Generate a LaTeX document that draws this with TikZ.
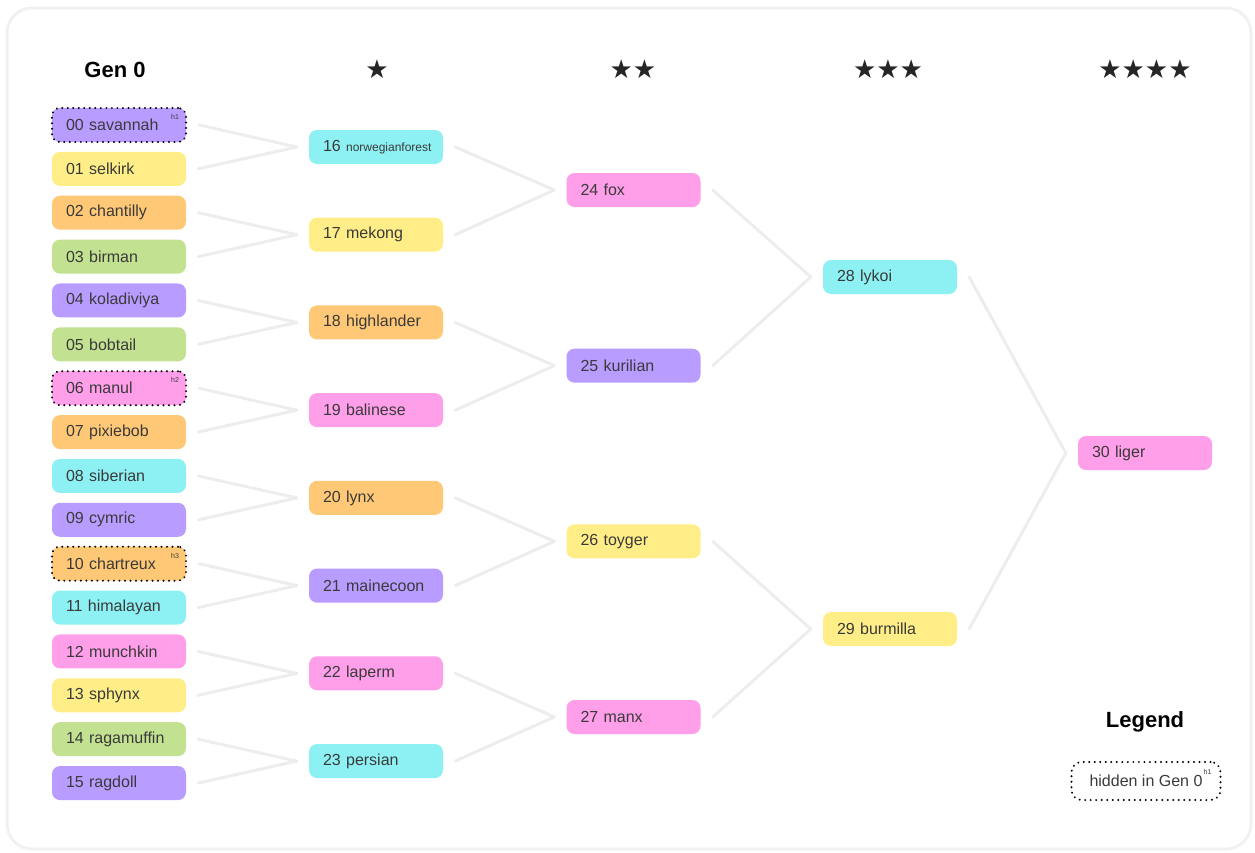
\documentclass[tikz,border=0pt]{standalone}
\usepackage{fontspec}
\setmainfont{Liberation Sans}
\newfontfamily\symfont{DejaVu Sans}
\definecolor{cpurple}{HTML}{B99CFF}
\definecolor{cyellow}{HTML}{FFEE88}
\definecolor{corange}{HTML}{FFC876}
\definecolor{cgreen}{HTML}{C3E291}
\definecolor{ccyan}{HTML}{8DF1F3}
\definecolor{cpink}{HTML}{FF9EE9}
\definecolor{ctext}{HTML}{3A3A3A}
\definecolor{cline}{HTML}{EDEDED}
\begin{document}
\begin{tikzpicture}[x=1pt,y=-1pt,
  cat/.style={rounded corners=8pt, minimum height=34pt, text width=106pt, inner xsep=14pt, inner ysep=0pt, align=left, text=ctext, font=\fontsize{16}{19}\selectfont},
  hid/.style={draw=black, line width=2.2pt, dash pattern=on 0.01pt off 5.5pt, line cap=round},
  plain/.style={},
  sup/.style={font=\fontsize{7}{8}\selectfont, text=ctext, inner sep=0pt},
  conn/.style={draw=cline, line width=3pt, line cap=round},
  head/.style={font=\bfseries\fontsize{22}{26}\selectfont, text=black},
  stars/.style={font=\symfont\fontsize{26}{30}\selectfont, text=black!85, inner sep=0pt}]
\useasboundingbox (0,0) rectangle (1255,852);
\draw[draw=cline!80, line width=3pt, rounded corners=25pt] (7,8) rectangle (1251,849);
% headers
\node[head] (h0) at (115,70) {Gen 0};
\node[stars] (h1) at (377,69) {★};
\node[stars] (h2) at (633,69) {★★};
\node[stars] (h3) at (888,69) {★★★};
\node[stars] (h4) at (1145,69) {★★★★};
% generation 0
\foreach \i/\t/\c/\s in {0/00 savannah/cpurple/hid, 1/01 selkirk/cyellow/plain, 2/02 chantilly/corange/plain, 3/03 birman/cgreen/plain, 4/04 koladiviya/cpurple/plain, 5/05 bobtail/cgreen/plain, 6/06 manul/cpink/hid, 7/07 pixiebob/corange/plain, 8/08 siberian/ccyan/plain, 9/09 cymric/cpurple/plain, 10/10 chartreux/corange/hid, 11/11 himalayan/ccyan/plain, 12/12 munchkin/cpink/plain, 13/13 sphynx/cyellow/plain, 14/14 ragamuffin/cgreen/plain, 15/15 ragdoll/cpurple/plain}
  \node[cat, fill=\c, \s] (n\i) at (119,{125+43.87*\i}) {\t};
% generation 1
\foreach \i/\t/\c in {16/{\makebox[106pt][l]{16 {\fontsize{12}{15}\selectfont norwegianforest}}}/ccyan, 17/17 mekong/cyellow, 18/18 highlander/corange, 19/19 balinese/cpink, 20/20 lynx/corange, 21/21 mainecoon/cpurple, 22/22 laperm/cpink, 23/23 persian/ccyan}
  \node[cat, fill=\c] (n\i) at (376,{147+87.72*(\i-16)}) {\t};
% generation 2
\foreach \i/\t/\c in {24/24 fox/cpink, 25/25 kurilian/cpurple, 26/26 toyger/cyellow, 27/27 manx/cpink}
  \node[cat, fill=\c] (n\i) at (633.5,{190+175.67*(\i-24)}) {\t};
% generation 3
\node[cat, fill=ccyan] (n28) at (890,277) {28 lykoi};
\node[cat, fill=cyellow] (n29) at (890,629) {29 burmilla};
% generation 4
\node[cat, fill=cpink] (n30) at (1145,453) {30 liger};
% superscripts
\node[sup] (s0) at ([shift={(-12,-8)}]n0.east) {h1};
\node[sup] (s6) at ([shift={(-12,-8)}]n6.east) {h2};
\node[sup] (s10) at ([shift={(-12,-8)}]n10.east) {h3};
% connectors
\foreach \a/\b in {0/16,1/16,2/17,3/17,4/18,5/18,6/19,7/19,8/20,9/20,10/21,11/21,12/22,13/22,14/23,15/23,16/24,17/24,18/25,19/25,20/26,21/26,22/27,23/27,24/28,25/28,26/29,27/29,28/30,29/30}
  \draw[conn] ([xshift=12pt]n\a.east) -- ([xshift=-12pt]n\b.west);
% legend
\node[head] (lg) at (1145,722) {Legend};
\node[hid, rounded corners=10pt, minimum width=149pt, minimum height=38pt, inner sep=0pt, text=ctext, font=\fontsize{16}{19}\selectfont] (lbox) at (1146,781) {hidden in Gen 0\hspace{10pt}};
\node[sup] (ls) at ([shift={(-14,-9)}]lbox.east) {h1};
\end{tikzpicture}
\end{document}
